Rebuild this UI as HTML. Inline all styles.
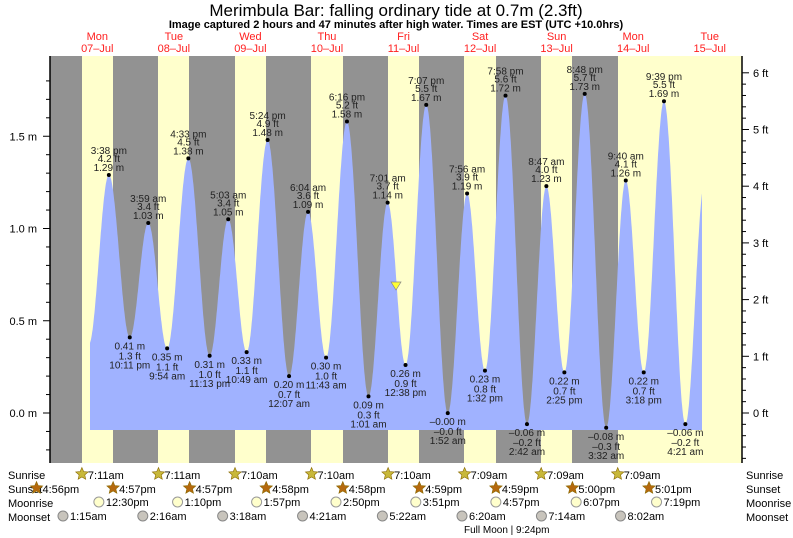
<!DOCTYPE html>
<html><head><meta charset="utf-8"><style>
body{margin:0;background:#fff;}
svg{display:block;font-family:"Liberation Sans",sans-serif;}
</style></head><body>
<svg id="s" width="793" height="538" viewBox="0 0 793 538" xmlns="http://www.w3.org/2000/svg">
<text x="396" y="16" font-size="17" text-anchor="middle" fill="#000">Merimbula Bar: falling  ordinary tide at 0.7m (2.3ft)</text>
<text x="396" y="28" font-size="11" font-weight="bold" text-anchor="middle" fill="#000">Image captured 2 hours and 47 minutes after high water. Times are EST (UTC +10.0hrs)</text>
<g id="g"></g>
</svg>
<script>
var NS="http://www.w3.org/2000/svg",g=document.getElementById('g');
function el(t,a,txt){var e=document.createElementNS(NS,t);for(var k in a)e.setAttribute(k,a[k]);if(txt!==undefined)e.textContent=txt;g.appendChild(e);return e;}
function X(t){return 59+t*3.19;}
function Y(h){return 413-184.5*h;}
el('rect',{x:50,y:56,width:692,height:407,fill:'#929292'});
var yb=[[82,113],[158,189],[235,266],[311,343],[388,419],[464,496],[541,572],[618,742]];
yb.forEach(function(b){el('rect',{x:b[0],y:56,width:b[1]-b[0],height:407,fill:'#ffffcc'});});
var days=[['Mon','07\u2013Jul'],['Tue','08\u2013Jul'],['Wed','09\u2013Jul'],['Thu','10\u2013Jul'],['Fri','11\u2013Jul'],['Sat','12\u2013Jul'],['Sun','13\u2013Jul'],['Mon','14\u2013Jul'],['Tue','15\u2013Jul']];
days.forEach(function(d,i){var x=X(12+24*i);el('text',{x:x,y:40,'font-size':11,'text-anchor':'middle',fill:'#ff2020'},d[0]);el('text',{x:x,y:52,'font-size':11,'text-anchor':'middle',fill:'#ff2020'},d[1]);});
var T=[[15.63,1.29,'3:38 pm','4.2 ft'],[22.18,0.41,'10:11 pm','1.3 ft'],[27.98,1.03,'3:59 am','3.4 ft'],[33.9,0.35,'9:54 am','1.1 ft'],[40.55,1.38,'4:33 pm','4.5 ft'],[47.22,0.31,'11:13 pm','1.0 ft'],[53.05,1.05,'5:03 am','3.4 ft'],[58.82,0.33,'10:49 am','1.1 ft'],[65.4,1.48,'5:24 pm','4.9 ft'],[72.12,0.20,'12:07 am','0.7 ft'],[78.07,1.09,'6:04 am','3.6 ft'],[83.72,0.30,'11:43 am','1.0 ft'],[90.27,1.58,'6:16 pm','5.2 ft'],[97.02,0.09,'1:01 am','0.3 ft'],[103.02,1.14,'7:01 am','3.7 ft'],[108.63,0.26,'12:38 pm','0.9 ft'],[115.12,1.67,'7:07 pm','5.5 ft'],[121.87,-0.001,'1:52 am','\u20130.0 ft'],[127.93,1.19,'7:56 am','3.9 ft'],[133.53,0.23,'1:32 pm','0.8 ft'],[139.97,1.72,'7:58 pm','5.6 ft'],[146.7,-0.06,'2:42 am','\u20130.2 ft'],[152.78,1.23,'8:47 am','4.0 ft'],[158.42,0.22,'2:25 pm','0.7 ft'],[164.8,1.73,'8:48 pm','5.7 ft'],[171.53,-0.08,'3:32 am','\u20130.3 ft'],[177.67,1.26,'9:40 am','4.1 ft'],[183.3,0.22,'3:18 pm','0.7 ft'],[189.65,1.69,'9:39 pm','5.5 ft'],[196.35,-0.06,'4:21 am','\u20130.2 ft'],[202.4,1.25,'','']];
var pts=[[9.3,0.37]].concat(T);
function hAt(t){for(var i=0;i<pts.length-1;i++){var a=pts[i],b=pts[i+1];if(t>=a[0]&&t<=b[0]){var f=(t-a[0])/(b[0]-a[0]);return a[1]+(b[1]-a[1])*(1-Math.cos(Math.PI*f))/2;}}return pts[pts.length-1][1];}
var t0=(90-59)/3.19,t1=(702-59)/3.19,d='M90,430';
for(var t=t0;t<=t1;t+=0.1){d+=' L'+X(t).toFixed(1)+','+Y(hAt(t)).toFixed(1);}
d+=' L702,'+Y(hAt(t1)).toFixed(1)+' L702,430 Z';
el('path',{d:d,fill:'#a0b2ff'});
T.forEach(function(p,i){if(!p[2])return;var x=X(p[0]),y=Y(p[1]);el('circle',{cx:x,cy:y,r:2,fill:'#000'});
var m=(p[1]<0?'\u2013':'')+Math.abs(p[1]).toFixed(2)+' m';var o={'font-size':10,'text-anchor':'middle',fill:'#222'};
function tx(yy,s){var a=Object.assign({x:x,y:yy},o);el('text',a,s);}
if(i%2==0){tx(y-21,p[2]);tx(y-13,p[3]);tx(y-4,m);}else{tx(y+12,m);tx(y+22,p[3]);tx(y+31,p[2]);}});
el('path',{d:'M391,282 L401,282 L396,290 Z',fill:'#ffff33',stroke:'#888','stroke-width':0.7});
el('line',{x1:50,y1:56,x2:50,y2:463,stroke:'#000','stroke-width':1.5});
el('line',{x1:742,y1:56,x2:742,y2:463,stroke:'#000','stroke-width':1.5});
for(var v=-0.2;v<=1.85;v+=0.1){var y=Y(v);var maj=Math.abs(v*2-Math.round(v*2))<0.01;el('line',{x1:maj?43:46,y1:y,x2:50,y2:y,stroke:'#000'});
if(maj&&v>-0.05){el('text',{x:37,y:y+4,'font-size':11,'text-anchor':'end',fill:'#000'},Math.abs(v).toFixed(1)+' m');}}
for(var f=-1;f<=6.2;f+=0.2){var y=413-56.7*f;if(y<56||y>463)continue;var maj=Math.abs(f-Math.round(f))<0.01;el('line',{x1:742,y1:y,x2:maj?749:746,y2:y,stroke:'#000'});
if(maj)el('text',{x:753,y:y+4,'font-size':11,fill:'#000'},Math.round(f)+' ft');}
var lab=[['Sunrise',475],['Sunset',489],['Moonrise',503],['Moonset',517]];
lab.forEach(function(l){el('text',{x:8,y:l[1]+4,'font-size':11,fill:'#000'},l[0]);el('text',{x:746,y:l[1]+4,'font-size':11,fill:'#000'},l[0]);});
function star(cx,cy,fc){var s='';for(var k=0;k<10;k++){var r=k%2?3:6.5,a=-Math.PI/2+k*Math.PI/5;s+=(cx+r*Math.cos(a)).toFixed(1)+','+(cy+r*Math.sin(a)).toFixed(1)+' ';}el('polygon',{points:s,fill:fc,stroke:'#8a6a00','stroke-width':0.6});}
var sr=['7:11am','7:11am','7:10am','7:10am','7:10am','7:09am','7:09am','7:09am'];
var srh=[7.18,7.18,7.17,7.17,7.17,7.15,7.15,7.15];
sr.forEach(function(s,i){var x=X(24*i+srh[i]);star(x,474,'#c8b83a');el('text',{x:x+6,y:479,'font-size':11,fill:'#000'},s);});
var ss=['4:56pm','4:57pm','4:57pm','4:58pm','4:58pm','4:59pm','4:59pm','5:00pm','5:01pm'];
ss.forEach(function(s,i){var x=X(24*(i-1)+16.95);star(x,488,'#b5690e');el('text',{x:x+6,y:493,'font-size':11,fill:'#000'},s);});
var mr=[[12.5,'12:30pm'],[37.17,'1:10pm'],[61.95,'1:57pm'],[86.83,'2:50pm'],[111.85,'3:51pm'],[136.95,'4:57pm'],[162.12,'6:07pm'],[187.32,'7:19pm']];
mr.forEach(function(m){var x=X(m[0]);el('circle',{cx:x,cy:502,r:5,fill:'#ffffcc',stroke:'#999'});el('text',{x:x+7,y:506,'font-size':11,fill:'#000'},m[1]);});
var ms=[[1.25,'1:15am'],[26.27,'2:16am'],[51.3,'3:18am'],[76.35,'4:21am'],[101.37,'5:22am'],[126.33,'6:20am'],[151.23,'7:14am'],[176.03,'8:02am']];
ms.forEach(function(m){var x=X(m[0]);el('circle',{cx:x,cy:516,r:5,fill:'#c8c4bc',stroke:'#888'});el('text',{x:x+7,y:520,'font-size':11,fill:'#000'},m[1]);});
el('text',{x:464,y:533,'font-size':10,fill:'#000'},'Full Moon | 9:24pm');
</script>
</body></html>
